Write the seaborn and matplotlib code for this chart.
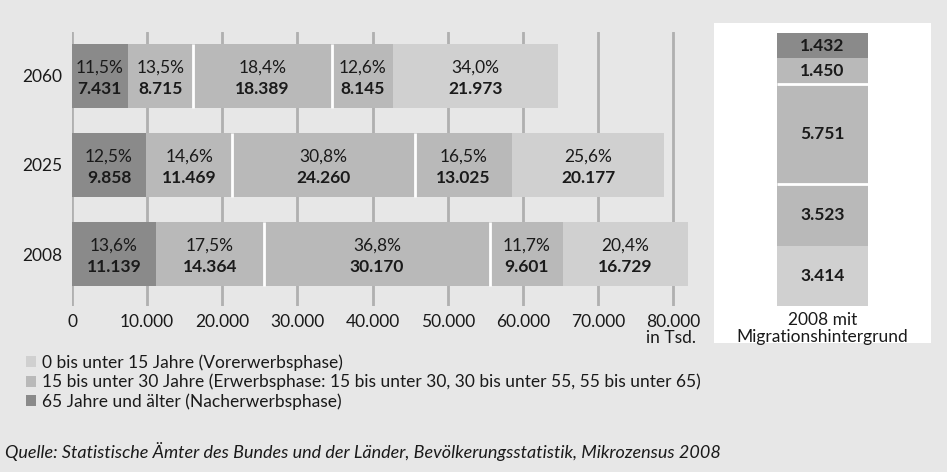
import seaborn as sns
import matplotlib.pyplot as plt
import pandas as pd
from matplotlib.patches import Patch
from matplotlib.transforms import blended_transform_factory

# Daten (in Tsd.)
years = ['2060', '2025', '2008']
seg1 = [7431, 9858, 11139]
seg2 = [8715, 11469, 14364]
seg3 = [18389, 24260, 30170]
seg4 = [8145, 13025, 9601]
seg5 = [21973, 20177, 16729]
pct1 = ['11,5%', '12,5%', '13,6%']
pct2 = ['13,5%', '14,6%', '17,5%']
pct3 = ['18,4%', '30,8%', '36,8%']
pct4 = ['12,6%', '16,5%', '11,7%']
pct5 = ['34,0%', '25,6%', '20,4%']

# 2008 mit Migrationshintergrund (gleiche Reihenfolge wie oben)
mig_values = [1432, 1450, 5751, 3523, 3414]
mig_label = '2008 mit\nMigrationshintergrund'

x_ticks = [0, 10000, 20000, 30000, 40000, 50000, 60000, 70000, 80000]
x_tick_labels = ['0', '10.000', '20.000', '30.000', '40.000', '50.000', '60.000', '70.000', '80.000']

legend_labels = ['0 bis unter 15 Jahre (Vorerwerbsphase)',
                 '15 bis unter 30 Jahre (Erwerbsphase: 15 bis unter 30, 30 bis unter 55, 55 bis unter 65)',
                 '65 Jahre und älter (Nacherwerbsphase)']
source = 'Quelle: Statistische Ämter des Bundes und der Länder, Bevölkerungsstatistik, Mikrozensus 2008'

BG = '#e7e7e7'
DARK = '#8a8a8a'
MID = '#b9b9b9'
LIGHT = '#d0d0d0'
TXT = '#1a1a1a'
seg_colors = [DARK, MID, MID, MID, LIGHT]

sns.set_theme(style='white')
plt.rcParams['font.family'] = ['Lato', 'DejaVu Sans']
FS = 12.5

fig = plt.figure(figsize=(9.47, 4.72), dpi=100, facecolor=BG)

# ---- Hauptdiagramm ----
ax = fig.add_axes([72 / 947, 166 / 472, 620 / 947, 274 / 472], facecolor=BG)
segs = [seg1, seg2, seg3, seg4, seg5]
pcts = [pct1, pct2, pct3, pct4, pct5]
df = pd.DataFrame({'year': years})
cum = [0] * len(years)
cums = []
for s in segs:
    cum = [c + v for c, v in zip(cum, s)]
    cums.append(cum)
# groesste Summe zuerst zeichnen, dann darueber die kleineren
for i in range(len(segs) - 1, -1, -1):
    df['val'] = cums[i]
    sns.barplot(data=df, x='val', y='year', order=years, orient='h',
                color=seg_colors[i], saturation=1, width=0.72, linewidth=0, ax=ax)

# weisse Trennlinien zwischen gleichfarbigen Segmenten
for j in range(len(years)):
    for i in (0, 1):
        ax.vlines(cums[i + 1][j], j - 0.36, j + 0.36, color='white', lw=2, zorder=3)

# Beschriftungen
for j in range(len(years)):
    left = 0
    for i, s in enumerate(segs):
        xc = left + s[j] / 2
        ax.text(xc, j - 0.09, pcts[i][j], ha='center', va='center', fontsize=FS, color=TXT)
        ax.text(xc, j + 0.145, f'{s[j]:,}'.replace(',', '.'), ha='center', va='center',
                fontsize=FS, fontweight='bold', color=TXT)
        left += s[j]

ax.set_xlim(0, 82500)
ax.set_ylim(2.584, -0.494)
ax.set_xticks(x_ticks)
ax.set_xticklabels(x_tick_labels, fontsize=FS, color=TXT)
ax.tick_params(axis='x', length=0, pad=6)
ax.tick_params(axis='y', length=0, pad=7, labelsize=FS, labelcolor=TXT)
ax.xaxis.grid(True, color='#b0b0b0', lw=2)
ax.set_axisbelow(True)
ax.set_xlabel('')
ax.set_ylabel('')
sns.despine(ax=ax, left=True, bottom=True)
trans = blended_transform_factory(ax.transData, ax.transAxes)
ax.text(83000, -0.118, 'in Tsd.', transform=trans, ha='right', va='center',
        fontsize=FS, color=TXT, clip_on=False)

# ---- Migrationshintergrund ----
ax2 = fig.add_axes([714 / 947, 129 / 472, 217 / 947, 320 / 472], facecolor='white')
mig_df = pd.DataFrame({'grp': ['2008']})
mig_cum = []
c = 0
for v in mig_values[::-1]:
    c += v
    mig_cum.append(c)
mig_colors = seg_colors[::-1]
for i in range(len(mig_cum) - 1, -1, -1):
    mig_df['val'] = mig_cum[i]
    sns.barplot(data=mig_df, x='grp', y='val', color=mig_colors[i], saturation=1,
                width=0.8, linewidth=0, ax=ax2)
for i in (1, 2):
    ax2.hlines(mig_cum[i], -0.4, 0.4, color='white', lw=2, zorder=3)
bottom = 0
for v in mig_values[::-1]:
    ax2.text(0, bottom + v / 2, f'{v:,}'.replace(',', '.'), ha='center', va='center',
             fontsize=FS, fontweight='bold', color=TXT)
    bottom += v
ax2.set_xlim(-0.954, 0.954)
ax2.set_ylim(-2110, 16140)
ax2.set_xticks([])
ax2.set_yticks([])
ax2.set_xlabel('')
ax2.set_ylabel('')
sns.despine(ax=ax2, left=True, bottom=True)
ax2.text(0.5, 0.045, mig_label, transform=ax2.transAxes, ha='center', va='center',
         fontsize=FS, color=TXT, linespacing=1.05)

# ---- Legende und Quelle ----
handles = [Patch(facecolor=col, edgecolor='none') for col in [LIGHT, MID, DARK]]
fig.legend(handles, legend_labels, loc='upper left', bbox_to_anchor=(26 / 947, 118 / 472),
           frameon=False, fontsize=FS, handlelength=0.6, handleheight=0.6,
           handletextpad=0.3, labelspacing=0.18, borderpad=0, borderaxespad=0,
           labelcolor=TXT)
fig.text(5 / 947, 20 / 472, source, fontsize=13, style='italic', color=TXT, va='center')

fig.savefig('out.png', dpi=100, facecolor=BG)
